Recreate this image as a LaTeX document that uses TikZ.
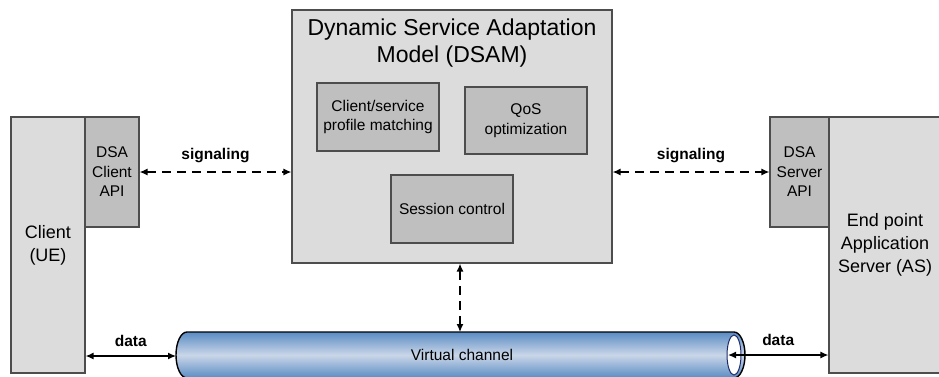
\documentclass[tikz,border=0pt]{standalone}
\usepackage{fontspec}
\setmainfont{Liberation Sans}
\usetikzlibrary{arrows.meta}
\definecolor{boxlight}{HTML}{DCDCDC}
\definecolor{boxdark}{HTML}{BFBFBF}
\definecolor{boxline}{HTML}{4D4D4D}
\definecolor{pipedark}{HTML}{5A8CC3}
\definecolor{pipelight}{HTML}{CAD6E8}
\definecolor{pipeend}{HTML}{1F2A6B}
\tikzset{
  outerbox/.style={draw=boxline, fill=boxlight, line width=1.2pt, inner sep=0pt, align=center},
  innerbox/.style={draw=boxline, fill=boxdark, line width=1.2pt, inner sep=0pt, align=center,
    font=\fontsize{15.5}{19.5}\selectfont},
  bigtext/.style={font=\fontsize{18}{23}\selectfont},
  lbl/.style={font=\fontsize{15.5}{18}\selectfont\bfseries, above=5pt},
  sigline/.style={arrows={Latex[length=8pt,width=7pt]-Latex[length=8pt,width=7pt]}, line width=1.3pt, dash pattern=on 9pt off 6pt},
  dataline/.style={arrows={Latex[length=8pt,width=7pt]-Latex[length=8pt,width=7pt]}, line width=1.3pt},
}
\begin{document}
\begin{tikzpicture}[x=1pt, y=-1pt]
\useasboundingbox (0,0) rectangle (939,376);

% end systems with their DSA API blocks
\node[outerbox, bigtext, minimum width=74, minimum height=256] (client) at (48,245) {Client\\(UE)};
\node[innerbox, minimum width=54, minimum height=110] (capi) at (112,172) {DSA\\Client\\API};
\node[outerbox, bigtext, minimum width=112, minimum height=256] (server) at (885,245) {End point\\Application\\Server (AS)};
\node[innerbox, minimum width=59, minimum height=110] (sapi) at (799.5,172) {DSA\\Server\\API};

% adaptation model and its components
\node[outerbox, minimum width=320, minimum height=253] (dsam) at (452,136.5) {};
\node[font=\fontsize{23}{27}\selectfont, align=center] (title) at (452,43.5) {Dynamic Service Adaptation\\Model (DSAM)};
\node[innerbox, minimum width=122, minimum height=68] (match) at (378,117) {Client/service\\profile matching};
\node[innerbox, minimum width=122, minimum height=67] (qos) at (526,120.5) {QoS\\optimization};
\node[innerbox, minimum width=122, minimum height=68] (session) at (452,209) {Session control};

% virtual channel pipe
\coordinate (pipeL) at (176,356);
\coordinate (pipeR) at (728,355);
\coordinate (pipeT) at (460,332);
\path[draw=black, line width=1.4pt, top color=pipedark, bottom color=pipedark, middle color=pipelight]
  (187,332) -- (734,332) arc[start angle=90, end angle=-90, x radius=11pt, y radius=23pt]
  -- (187,378) arc[start angle=270, end angle=90, x radius=11pt, y radius=23pt] -- cycle;
\draw[draw=pipeend, fill=white, line width=1pt] (734,355) ellipse[x radius=7pt, y radius=20pt];
\node[font=\fontsize{15.5}{18}\selectfont] (vc) at (462,355) {Virtual channel};

% signaling and data connectors
\draw[sigline] (capi.east) -- node[lbl] {signaling} (capi.east -| dsam.west);
\draw[sigline] (dsam.east |- sapi.west) -- node[lbl] {signaling} (sapi.west);
\draw[sigline] (pipeT |- dsam.south) -- (pipeT);
\draw[dataline] (client.east |- pipeL) -- node[lbl] {data} (pipeL);
\draw[dataline] (pipeR) -- node[lbl] {data} (pipeR -| server.west);
\end{tikzpicture}
\end{document}
